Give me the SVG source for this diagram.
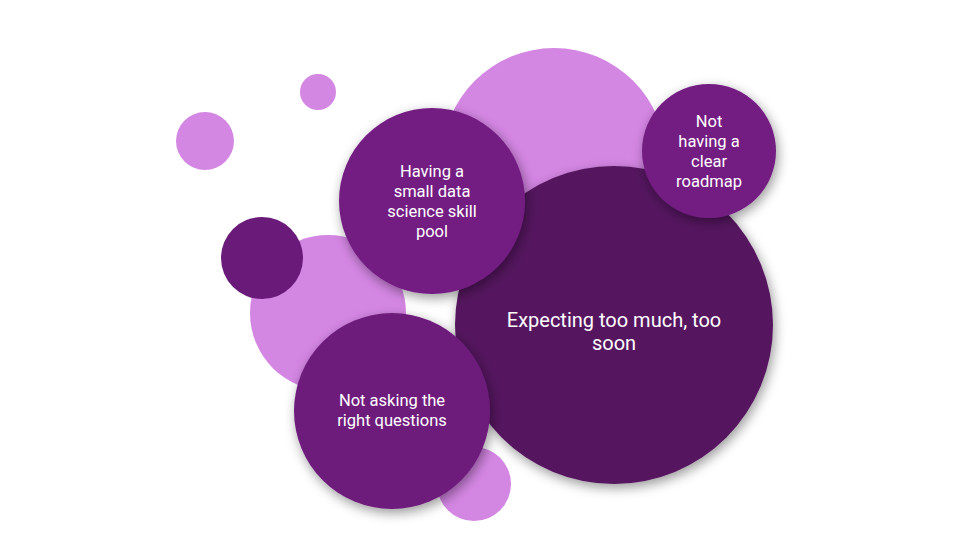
<svg xmlns="http://www.w3.org/2000/svg" width="974" height="541" viewBox="0 0 974 541">
<defs>
<filter id="sh" x="-30%" y="-30%" width="160%" height="160%">
<feDropShadow dx="2" dy="4" stdDeviation="6" flood-color="#000" flood-opacity="0.4"/>
</filter>
<style>
.pink{fill:#D486E3}
.mid{fill:#731D82;filter:url(#sh)}
.dark{fill:#55155F;filter:url(#sh)}
.lbl{font-family:Roboto,"Liberation Sans",sans-serif;font-size:16.5px;fill:#FFFFFF;text-anchor:middle}
.big{font-size:20px}
</style>
</defs>
<rect width="974" height="541" fill="#FFFFFF"/>
<g id="decor">
<circle class="pink" cx="318" cy="92" r="18"/>
<circle class="pink" cx="205" cy="141" r="29"/>
<circle class="pink" cx="554" cy="160" r="112"/>
<circle class="pink" cx="328" cy="313" r="78"/>
<circle class="pink" cx="474" cy="484" r="37"/>
<circle cx="262" cy="258" r="41" fill="#6A1A78"/>
</g>
<g id="connectors"></g>
<g id="expecting">
<circle class="dark" cx="614" cy="325" r="159"/>
<text class="lbl big" x="614" y="327">Expecting too much, too</text>
<text class="lbl big" x="614" y="350">soon</text>
</g>
<g id="skill-pool">
<circle class="mid" cx="432" cy="201" r="93"/>
<text class="lbl" x="432" y="177">Having a</text>
<text class="lbl" x="432" y="197">small data</text>
<text class="lbl" x="432" y="217">science skill</text>
<text class="lbl" x="432" y="237">pool</text>
</g>
<g id="roadmap">
<circle class="mid" cx="709" cy="151" r="67"/>
<text class="lbl" x="709" y="127">Not</text>
<text class="lbl" x="709" y="147">having a</text>
<text class="lbl" x="709" y="167">clear</text>
<text class="lbl" x="709" y="187">roadmap</text>
</g>
<g id="questions">
<circle cx="392" cy="411" r="98" fill="#6E1C7C" filter="url(#sh)"/>
<text class="lbl" x="392" y="406">Not asking the</text>
<text class="lbl" x="392" y="426">right questions</text>
</g>
</svg>
